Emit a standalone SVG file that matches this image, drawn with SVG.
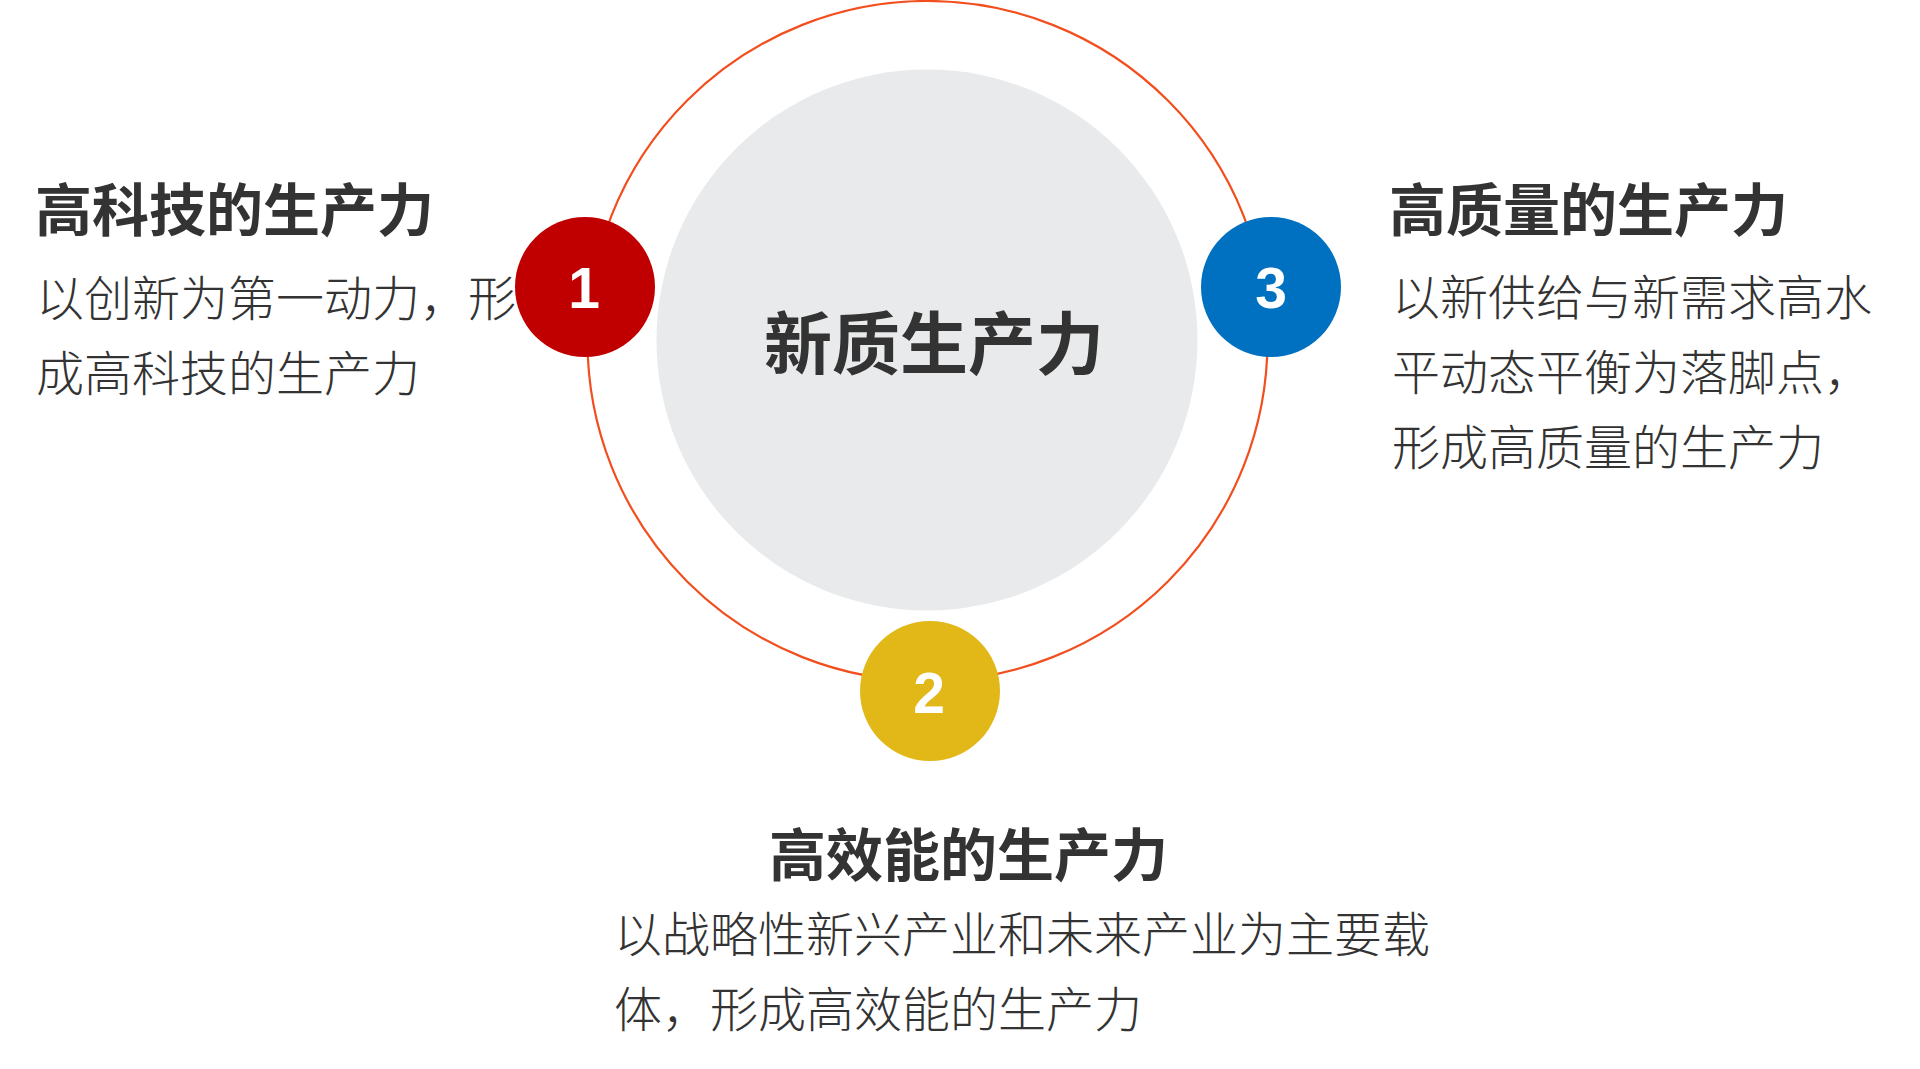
<svg xmlns="http://www.w3.org/2000/svg" width="1920" height="1069" viewBox="0 0 1920 1069">
<style>
.head{font-family:"Noto Sans CJK SC","Noto Sans",sans-serif;font-weight:700;font-size:57px;fill:#333333}
.body{font-family:"Noto Sans CJK SC","Noto Sans",sans-serif;font-weight:300;font-size:48px;fill:#333333}
.center{font-family:"Noto Sans CJK SC","Noto Sans",sans-serif;font-weight:700;font-size:68px;fill:#333333}
.num{font-family:"Liberation Sans",Arial,sans-serif;font-weight:700;font-size:57px;fill:#ffffff;text-anchor:middle}
</style>
<rect width="1920" height="1069" fill="#ffffff"/>
<g id="connectors">
<circle cx="927.5" cy="341" r="340" fill="none" stroke="#F24E1E" stroke-width="2.2"/>
</g>
<g id="core">
<circle cx="927" cy="340" r="270.5" fill="#E9EAEC"/>
<text class="center" x="764" y="369">新质生产力</text>
</g>
<g id="text-1">
<text class="head" x="35" y="231">高科技的生产力</text>
<text class="body" x="36" y="316">以创新为第一动力，形</text>
<text class="body" x="36" y="391">成高科技的生产力</text>
</g>
<g id="text-3">
<text class="head" x="1389" y="231">高质量的生产力</text>
<text class="body" x="1392" y="315">以新供给与新需求高水</text>
<text class="body" x="1392" y="390">平动态平衡为落脚点，</text>
<text class="body" x="1392" y="465">形成高质量的生产力</text>
</g>
<g id="text-2">
<text class="head" x="769" y="876">高效能的生产力</text>
<text class="body" x="614" y="952">以战略性新兴产业和未来产业为主要载</text>
<text class="body" x="614" y="1027">体，形成高效能的生产力</text>
</g>
<g id="node-1">
<circle cx="585" cy="287" r="70" fill="#C00000"/>
<text class="num" x="584" y="308">1</text>
</g>
<g id="node-3">
<circle cx="1271" cy="287" r="70" fill="#0070C0"/>
<text class="num" x="1271" y="308">3</text>
</g>
<g id="node-2">
<circle cx="930" cy="691" r="70" fill="#E2B818"/>
<text class="num" x="929" y="713">2</text>
</g>
</svg>
